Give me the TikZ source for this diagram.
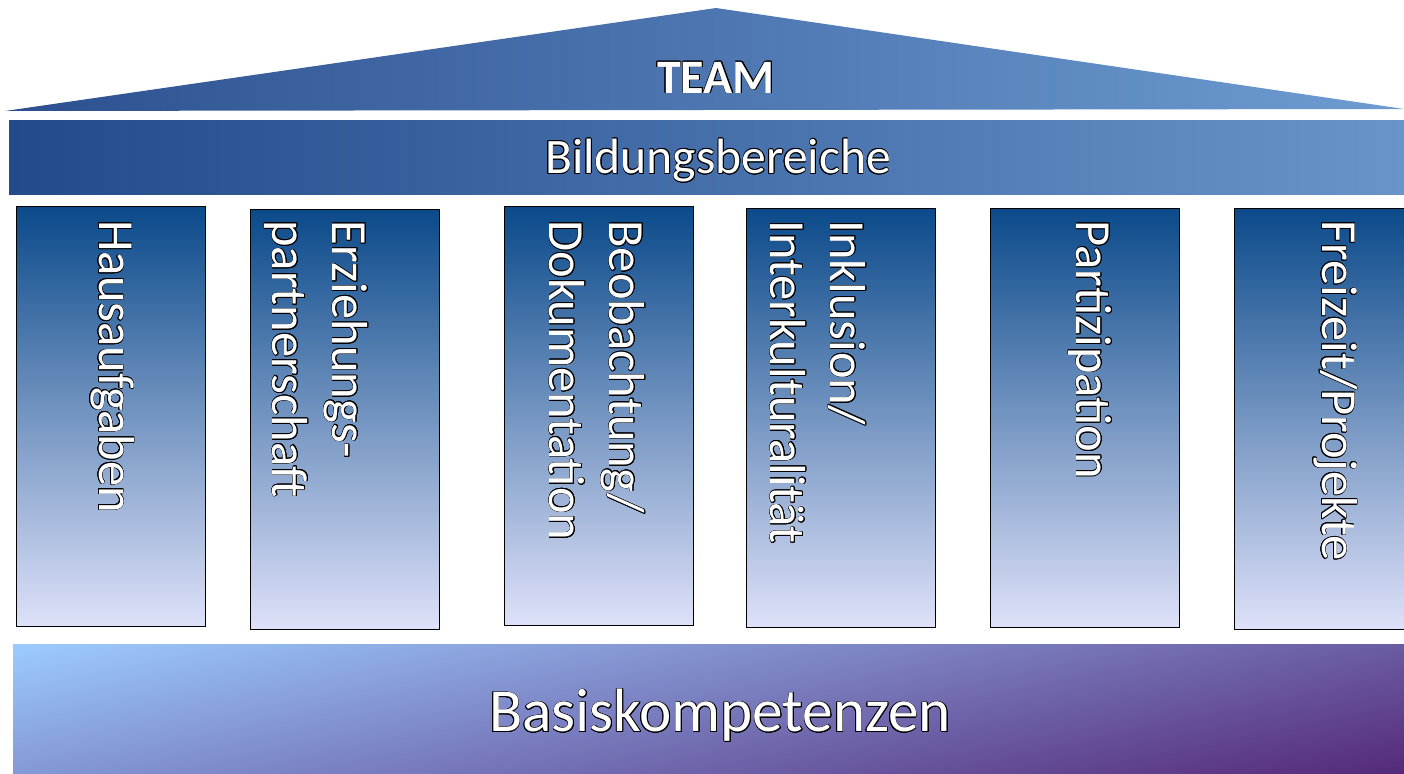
\documentclass[tikz,border=0pt]{standalone}
\usepackage{fontspec}
\setmainfont{Carlito}
\usepackage{contour}
\contourlength{0.35pt}
\usetikzlibrary{shadings}
\definecolor{rooflft}{HTML}{2C508F}
\definecolor{roofrgt}{HTML}{6E9CD2}
\definecolor{barlft}{HTML}{234A8A}
\definecolor{barrgt}{HTML}{6894CA}
\definecolor{pilltop}{HTML}{0B4A8A}
\definecolor{pillbot}{HTML}{DEE1F9}
\definecolor{basisul}{HTML}{9CCBFF}
\definecolor{basisur}{HTML}{6B5CA2}
\definecolor{basisll}{HTML}{8499D6}
\definecolor{basislr}{HTML}{55297A}
\newcommand{\outl}[1]{\contour{black}{#1}}
\tikzset{
  pillar/.style={draw=black, line width=0.5pt, top color=pilltop, bottom color=pillbot},
  pillartext/.style={rotate=-90, anchor=west, inner sep=0pt, align=left, text=white,
    font=\fontsize{25.3}{30}\selectfont},
}
\begin{document}
\begin{tikzpicture}[x=0.5pt,y=0.5pt]
\useasboundingbox (0,0) rectangle (1404,773);
% roof
\shade[left color=rooflft, right color=roofrgt] (5,662) -- (716,765) -- (1404,664) -- cycle;
\node[text=white, font=\bfseries\fontsize{24}{28}\selectfont] (team) at (716,695) {\outl{TEAM}};
% bar
\shade[left color=barlft, right color=barrgt] (9,652) rectangle (1404,578);
\node[text=white, font=\fontsize{24.8}{28}\selectfont] (bildung) at (718,612) {\outl{Bildungsbereiche}};
% pillars
\draw[pillar] (16,566) rectangle (205,147);
\draw[pillar] (250,563) rectangle (439,144);
\draw[pillar] (504,566) rectangle (693,148);
\draw[pillar] (746,564) rectangle (935,146);
\draw[pillar] (990,564) rectangle (1179,146);
\draw[pillar] (1234,564) rectangle (1430,144);
\node[pillartext] (haus) at (112,553) {\outl{Hausaufgaben}};
\node[pillartext] (erz) at (316,553) {\outl{Erziehungs-}\\\outl{partnerschaft}};
\node[pillartext] (beob) at (597,553) {\outl{Beobachtung/}\\\outl{Dokumentation}};
\node[pillartext] (inkl) at (818,553) {\outl{Inklusion/}\\\outl{Interkulturalität}};
\node[pillartext] (part) at (1090,553) {\outl{Partizipation}};
\node[pillartext] (frei) at (1335,553) {\outl{Freizeit/Projekte}};
% basis
\shade[upper left=basisul, upper right=basisur, lower left=basisll, lower right=basislr] (13,129) rectangle (1404,0);
\node[text=white, font=\fontsize{30.6}{34}\selectfont] (basis) at (720,57) {\outl{Basiskompetenzen}};
\end{tikzpicture}
\end{document}
